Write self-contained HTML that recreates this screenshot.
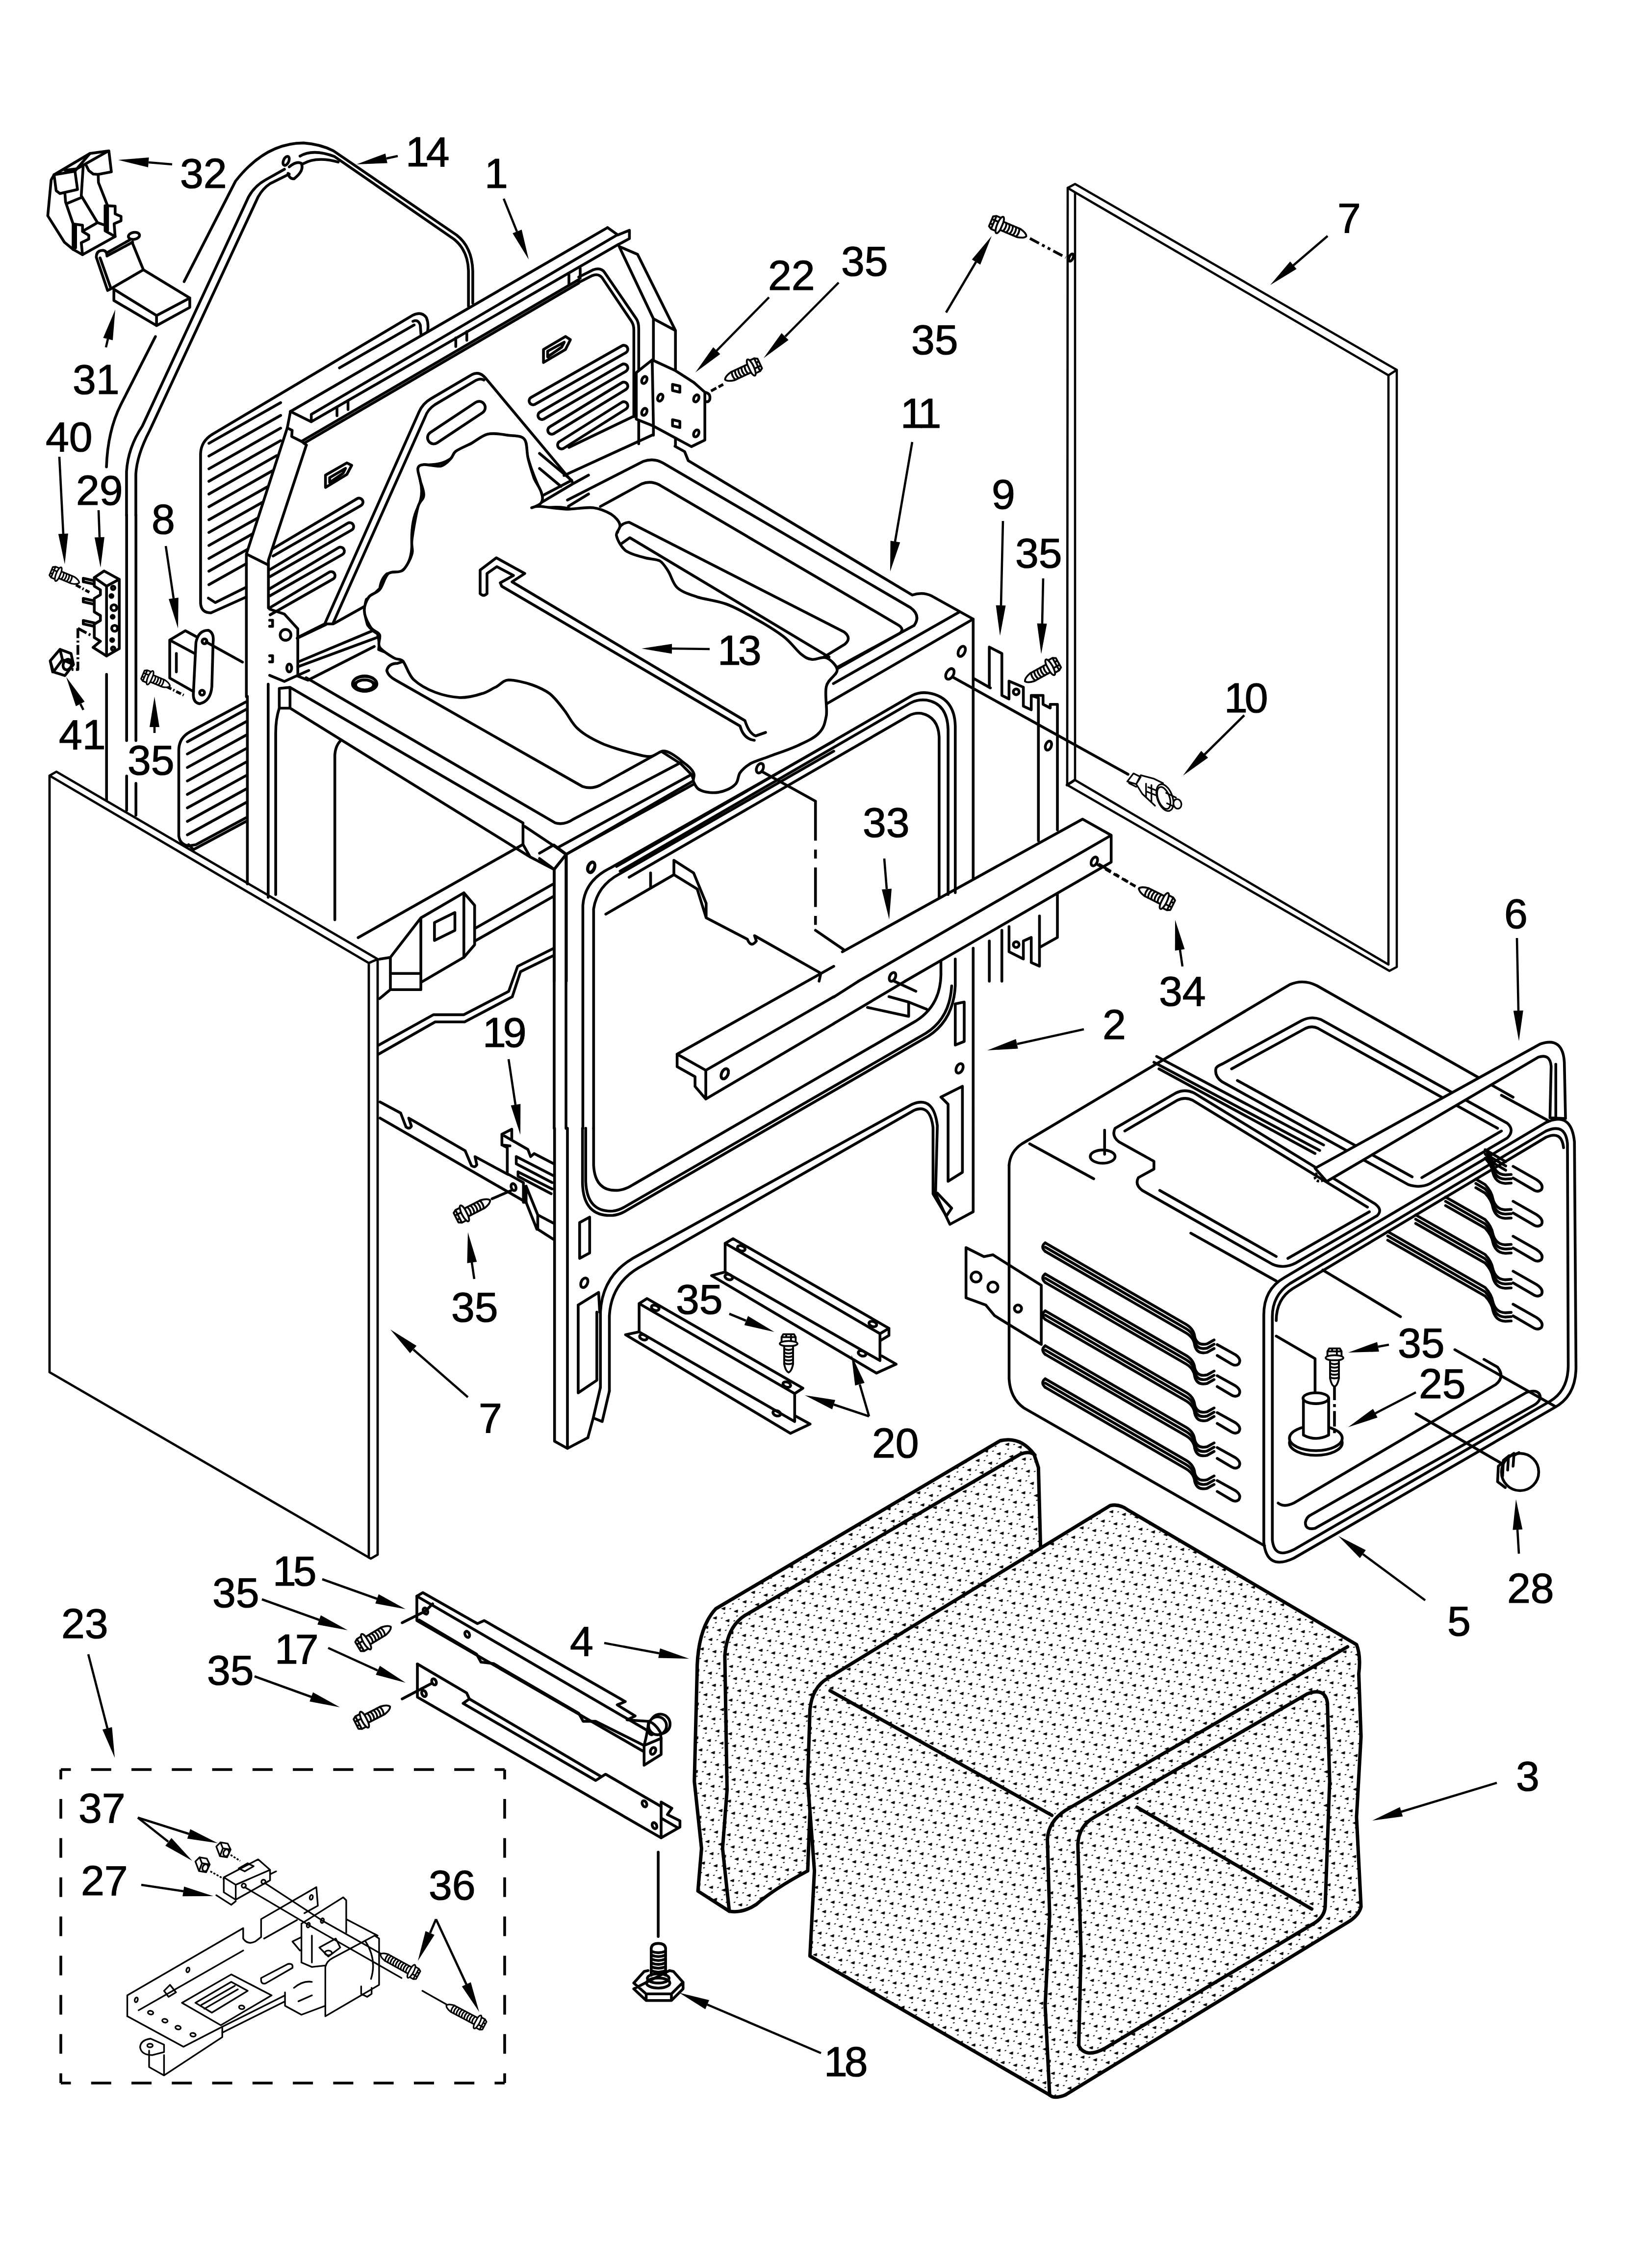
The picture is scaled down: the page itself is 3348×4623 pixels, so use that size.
<!DOCTYPE html><html><head><meta charset="utf-8"><title>Chassis Parts Diagram</title><style>html,body{margin:0;padding:0;background:#fff}svg{display:block}text{font-family:"Liberation Sans",sans-serif;fill:#000;stroke:#000;stroke-width:1.2px}</style></head><body>
<svg width="3348" height="4623" viewBox="0 0 3348 4623">
<defs><pattern id="stip" width="26" height="23" patternUnits="userSpaceOnUse" patternTransform="matrix(1.0786,0.2316,-0.8284,0.9143,0,0)">
<rect width="26" height="23" fill="#fff" stroke="none"/>
<path d="M8.5,4.5 L12,9.5 L5,8.5 Z" fill="#000" stroke="#000" stroke-width="1.6" stroke-linejoin="round"/>
<circle cx="20" cy="5" r="1.45" fill="#000" stroke="none"/><circle cx="17" cy="17" r="1.45" fill="#000" stroke="none"/>
</pattern>
</defs>
<rect width="3348" height="4623" fill="#fff"/>
<g transform="translate(200.0 250.0) scale(0.48721)" fill="none" stroke="#000" stroke-width="11.494" stroke-linejoin="round" stroke-linecap="round">
<path d="M360,665 L575,245 Q700,85 860,85 Q930,90 985,118 L1500,470 Q1565,520 1568,620 L1568,755"/>
<path d="M845,140 Q900,108 990,142 L1490,488 Q1548,535 1550,620 L1550,768"/>
<path d="M858,172 Q915,140 1005,165"/>
<path d="M240,895 L95,1180 Q40,1290 35,1440"/>
<path d="M780,195 L700,240 Q655,265 630,310 L185,1270 Q125,1360 119,1460 L119,1642"/>
<path d="M800,215 L720,255 Q690,275 670,310 L215,1290 Q163,1390 158,1470 L158,1642"/>
<ellipse cx="787" cy="160" rx="11" ry="20" transform="rotate(25 787 160)"/>
<path d="M800,185 Q830,160 850,170 Q865,200 820,235 Q800,235 795,212"/>
</g>
<g transform="translate(80.0 280.0) scale(0.25579)" fill="none" stroke="#000" stroke-width="21.893" stroke-linejoin="round" stroke-linecap="round">
<path d="M118,298 L405,128 L555,108 L575,275 L470,295 L472,360 L545,545 L605,548 L605,610 L652,630 L652,665 L597,688 L605,790 L345,935 L270,893 L200,835 L68,625 L95,340 Z"/>
<path d="M118,298 L285,270 L305,415 L165,448 L135,425 Z M205,262 L300,250 L405,128 M300,250 L540,115 M375,225 L395,265 L430,292 L470,295 M350,235 L335,465 L465,680 L525,700 M285,270 L300,250"/>
<path d="M205,450 L210,515 L270,690 L270,893 M225,525 L335,480 M270,690 L345,700 L345,750 L395,780 L395,810 L335,840 L345,935 M290,700 L290,880 M350,745 L455,685 M525,545 L525,745 L605,790 M545,560 L545,740"/>
<path d="M540,945 L745,835 M548,915 L720,818 M455,955 Q455,900 510,900 Q540,905 540,945 M455,955 L545,1220 L585,1200 M485,960 L570,1200"/>
<ellipse cx="755" cy="785" rx="45" ry="28" transform="rotate(-10 755 785)"/>
<path d="M740,835 L830,1055 L590,1195 M830,1055 L1200,1280 L935,1420 L595,1210 L595,1300 L935,1500 L935,1420 M935,1500 L1200,1355 L1200,1280"/>
</g>
<g transform="translate(380.0 600.0) scale(0.49939)" fill="none" stroke="#000" stroke-width="11.214" stroke-linejoin="round" stroke-linecap="round">
<path d="M105,572 L925,85 Q960,68 980,95 Q990,120 985,150"/>
<path d="M925,110 Q945,100 955,125 L958,165"/>
<path d="M625,300 L930,125"/>
<path d="M105,572 Q60,600 58,650 L58,1260 Q60,1300 100,1300 L245,1235"/>
<path d="M90,1240 L118,1258 L245,1195"/>
<path d="M92,608 L385,442"/>
<path d="M92,660 L385,494"/>
<path d="M92,712 L385,546"/>
<path d="M92,763 L385,597"/>
<path d="M92,815 L369,658"/>
<path d="M92,867 L350,721"/>
<path d="M92,920 L330,786"/>
<path d="M92,972 L310,849"/>
<path d="M92,1025 L291,913"/>
<path d="M92,1078 L271,977"/>
<path d="M92,1130 L251,1040"/>
<path d="M92,1185 L245,1099"/>
<path d="M425,478 L1719,-272"/>
<path d="M425,478 L412,545 L432,555 L430,580 L470,600 L490,615"/>
<path d="M425,478 L510,520 L510,490 L1758,-242 M510,520 L1764,-204"/>
<path d="M615,460 L615,495 M660,435 L660,470 M1100,178 L1100,213 M1145,152 L1145,187 M1562,-80 L1562,-42 M1608,-106 L1608,-66"/>
<path d="M470,600 L1602,-60 M480,608 L1602,-46"/>
<path d="M412,545 L245,1060 L245,1642 M490,615 L335,1085 L335,1280 M245,1060 L335,1105"/>
<path d="M568,738 L655,688 L675,698 L655,735 L568,788 Z M585,748 L650,710 L640,730 L585,768 Z"/>
<path d="M1458,225 L1548,172 L1568,185 L1548,225 L1458,278 Z M1475,232 L1543,195 L1533,215 L1475,255 Z"/>
<path d="M350,1040 L697,834 A16,16 0 0 1 713,862 L354,1068"/>
<path d="M338,1125 L659,934 A16,16 0 0 1 675,962 L342,1152"/>
<path d="M338,1203 L621,1034 A16,16 0 0 1 637,1062 L342,1230"/>
<path d="M338,1281 L583,1134 A16,16 0 0 1 599,1162 L342,1308"/>
<path d="M565,1345 L950,480 Q965,445 1000,425 L1165,328 Q1195,312 1220,340 L1575,765"/>
<path d="M600,1340 L975,500 Q985,470 1015,450 L1175,355 Q1200,340 1215,350"/>
<path d="M565,1345 L600,1345 L725,1275"/>
<path d="M996,564 L1181,441 A25,25 0 0 1 1209,483 L1024,606 A25,25 0 0 1 996,564"/>
<path d="M1410,872 Q1450,850 1450,810 Q1420,750 1395,670 Q1380,590 1310,575 Q1230,570 1160,610 Q1100,640 1080,670 Q1040,700 970,695 Q945,710 955,760 Q970,820 945,870 Q920,920 920,1000 Q925,1080 890,1120 Q860,1150 820,1140 Q795,1160 790,1200 Q760,1230 735,1245 Q720,1290 740,1350 Q760,1375 780,1385 Q790,1420 785,1450 Q820,1465 850,1470"/>
<path d="M1410,872 L1480,870 Q1540,865 1580,880 Q1620,885 1642,875"/>
<path d="M1415,870 L1575,775 L1642,738 M1560,865 L1642,815"/>
<path d="M1190,1110 L1265,1068 L1385,1135 L1340,1165 L1642,1345 M1225,1125 L1265,1100 L1335,1138 L1280,1172 L1285,1185 L1642,1400 M1190,1110 L1190,1215 Q1205,1235 1222,1215 L1225,1125"/>
<path d="M340,1285 L400,1305 L455,1365 L455,1555 L400,1580 L340,1555 M340,1330 L352,1330 L352,1355 L340,1355 M340,1475 L352,1475 L352,1500 L340,1500"/>
<circle cx="405" cy="1390" r="22"/><ellipse cx="420" cy="1525" rx="10" ry="16"/>
<path d="M455,1400 L565,1345 M455,1520 L780,1400 M455,1555 L500,1535"/>
<ellipse cx="728" cy="1590" rx="50" ry="30"/><ellipse cx="728" cy="1597" rx="42" ry="23"/></g>
<g transform="translate(1180.0 400.0) scale(0.49939)" fill="none" stroke="#000" stroke-width="11.214" stroke-linejoin="round" stroke-linecap="round">
<path d="M118,128 L160,158 L207,139 L207,173 L162,197" />
<path d="M165,205 L305,500 L305,975 M240,237 L395,548 L395,1020 M165,205 L240,237 M305,500 L395,548" />
<path d="M0,330 L60,300 Q90,290 105,310 L235,500 Q245,515 245,540 L245,1010 M0,352 L55,324 Q80,314 95,332 L215,510 Q225,525 225,545 L225,900" />
<path d="M235,720 L300,668 L395,712 L470,760 L515,800 L515,995 L460,1022 L305,938 L235,910 Z M300,668 L305,938" fill="#fff"/>
<ellipse cx="268" cy="750" rx="10" ry="15" transform="rotate(25 268 750)" />
<ellipse cx="268" cy="880" rx="10" ry="15" transform="rotate(25 268 880)" />
<ellipse cx="333" cy="822" rx="10" ry="15" transform="rotate(25 333 822)" />
<ellipse cx="480" cy="825" rx="10" ry="15" transform="rotate(25 480 825)" />
<ellipse cx="480" cy="968" rx="10" ry="15" transform="rotate(25 480 968)" />
<path d="M383,768 L413,775 L413,800 L383,793 Z M383,912 L413,919 L413,944 L383,937 Z M515,800 Q540,805 535,830 Q530,842 518,838" />
<path d="M540,795 L590,768" stroke-dasharray="25 10" stroke-linecap="butt"/>
<path d="M-60,1140 L300,975 M-40,1025 L235,893" /></g>
<g transform="translate(1100.0 800.0) scale(0.73082)" fill="none" stroke="#000" stroke-width="7.663" stroke-linejoin="round" stroke-linecap="round">
<path d="M378,150 L405,165 L415,190 L440,205 L1040,565 Q1070,555 1095,568 L1210,632 L1210,1355"/>
<path d="M78,300 L290,192 Q320,182 345,197 L1035,600 Q1065,622 1045,650 L815,775"/>
<path d="M170,318 L285,255 Q310,245 335,258 L1000,648 Q1020,660 1005,672 L800,788"/>
<path d="M218,390 Q222,365 250,362 L850,668 Q872,685 852,702 L790,740"/>
<path d="M228,422 L252,405 L808,738"/>
<path d="M1210,632 L75,1288 M1172,612 L820,812 M75,1288 L75,1642 M41,1330 L41,1642 M0,1300 L41,1330 L75,1288 L40,1262 L0,1285"/>
<path d="M1160,1395 L1160,930 Q1158,850 1085,838 Q1060,835 1040,845 L215,1322"/>
<path d="M1140,1400 L1140,940 Q1138,868 1080,858 Q1055,855 1035,866 L225,1335"/>
<path d="M1115,1410 L1115,960 Q1112,905 1065,895 Q1045,893 1030,902 L250,1352"/>
<path d="M185,1455 L375,1345"/>
<ellipse cx="145" cy="1325" rx="9" ry="15" transform="rotate(20 145 1325)"/>
<ellipse cx="1178" cy="722" rx="9" ry="15" transform="rotate(25 1178 722)"/>
<ellipse cx="1145" cy="785" rx="10" ry="16" transform="rotate(30 1145 785)"/>
<ellipse cx="615" cy="1048" rx="9" ry="14" transform="rotate(25 615 1048)"/>
<path d="M622,1058 L770,1140 M1155,795 L1642,1065"/>
<path d="M770,1140 L770,1500" stroke-dasharray="110 25 25 25" stroke-linecap="butt"/>
<path d="M770,1500 L850,1555"/>
<path d="M1255,820 L1255,710 L1290,728 L1290,845 L1310,855 L1310,805 L1350,822 L1350,875 L1372,885 L1372,845 L1392,852 L1392,1250 M1405,845 L1405,870 L1425,880 L1425,870 L1445,870 L1445,1220 M1372,845 L1405,845 M1212,798 L1258,824"/>
<circle cx="1330" cy="835" r="8"/>
<ellipse cx="1420" cy="985" rx="8" ry="13" transform="rotate(20 1420 985)"/>
<path d="M1255,1530 L1255,1642 M1290,1500 L1290,1642 M1310,1490 L1310,1560 L1350,1580 L1350,1530 L1372,1520 L1372,1590 L1395,1600 L1395,1460 M1445,1400 L1445,1520 L1395,1548"/>
<circle cx="1330" cy="1540" r="8"/>
<path d="M845,1560 L1515,1190 L1595,1235 L1595,1310 L1020,1642 M1595,1235 L890,1642"/>
<ellipse cx="1548" cy="1308" rx="8" ry="13" transform="rotate(25 1548 1308)"/>
<ellipse cx="985" cy="1630" rx="8" ry="13" transform="rotate(25 985 1630)"/>
<path d="M1560,1315 L1642,1365" stroke-dasharray="40 15 12 15" stroke-linecap="butt"/>
<path d="M375,1305 L375,1345 M375,1305 L430,1340 L465,1425 L465,1465 L580,1525 Q590,1550 605,1530 L600,1515 L785,1620 L780,1642 M375,1345 L440,1385 L465,1465 M310,1340 L310,1380"/>
<path d="M0,170 L90,245 L0,292 M0,212 L60,262"/></g>
<g transform="translate(500.0 1100.0) scale(0.73082)" fill="none" stroke="#000" stroke-width="7.663" stroke-linejoin="round" stroke-linecap="round">
<path d="M145,275 L225,237 M150,340 L365,250 M145,380 L175,392 L360,298"/>
<path d="M95,415 L125,412 L125,470 L95,470 Z M125,412 L775,790 L775,850 L795,885 L862,920 L895,878 L870,860 L780,800 M125,470 L795,885 M95,470 Q85,500 85,540 L85,990"/>
<path d="M170,385 L865,790 Q890,797 915,780 L1215,622"/>
<ellipse cx="333" cy="400" rx="32" ry="20" transform="rotate(0 333 400)"/>
<ellipse cx="333" cy="405" rx="25" ry="14" transform="rotate(0 333 405)"/>
<path d="M395,365 Q400,345 425,345 L445,338 M395,365 Q398,380 420,392 L940,688 Q965,697 990,685 L1135,605 L1160,590 L1215,625 L1245,655 L1255,680 L895,878"/>
<path d="M870,860 L1245,655"/>
<path d="M862,920 L862,1642 M895,878 L895,1642"/>
<ellipse cx="965" cy="913" rx="9" ry="15" transform="rotate(25 965 913)"/>
<path d="M942,1642 L942,1020 Q947,950 1020,915 L1642,562"/>
<path d="M972,1642 L972,1030 Q982,965 1045,932 L1642,590"/>
<path d="M250,1060 L250,600 Q252,575 265,562"/>
<path d="M315,1110 L775,850 M640,1085 L860,960 M640,1120 L860,995"/>
<path d="M490,1055 L610,985 L640,1020 L640,1130 L610,1165 L490,1235 Z M610,985 L610,1165 M528,1068 L585,1040 L585,1090 L528,1118 Z M490,1055 L405,1165 L405,1255 L490,1255 L490,1235 M405,1210 L490,1210 M375,1170 L405,1165 M375,1280 L405,1255"/>
<path d="M372,1410 L525,1325 L610,1325 L735,1260 L760,1190 L860,1140 M372,1435 L530,1345 L612,1345 L745,1275 L768,1205 L860,1160"/>
<path d="M1205,1435 L1642,1190 M1205,1435 L1205,1470 L1255,1498 L1255,1525 L1285,1560 L1285,1480 L1205,1435 M1285,1480 L1642,1275 M1285,1560 L1642,1350"/>
<ellipse cx="1338" cy="1490" rx="9" ry="15" transform="rotate(25 1338 1490)"/></g>
<g transform="translate(0.0 1050.0) scale(0.49939)" fill="none" stroke="#000" stroke-width="11.214" stroke-linejoin="round" stroke-linecap="round">
<path d="M517,0 L517,920 M555,0 L555,920 M517,1065 L517,1205 M555,1095 L555,1225 M435,650 L435,1165"/>
<path d="M1005,762 L775,885 Q730,910 730,960 L730,1310 Q735,1345 770,1350 L800,1345 L1005,1235 M770,1345 L790,1365 L1005,1250"/>
<path d="M765,925 L1005,793"/>
<path d="M765,975 L1005,843"/>
<path d="M765,1030 L1005,898"/>
<path d="M765,1085 L1005,953"/>
<path d="M765,1140 L1005,1008"/>
<path d="M765,1195 L1005,1063"/>
<path d="M765,1250 L1005,1118"/>
<path d="M765,1305 L1005,1173"/>
<path d="M1010,740 L1010,1505 M1095,690 L1095,1560"/>
<path d="M693,510 L757,472 L805,498 M693,510 L693,665 L790,720 M693,510 L795,565 M720,565 L720,640"/>
<path d="M800,520 Q810,470 850,470 Q875,480 870,520 L865,700 Q860,760 815,770 Q785,765 790,720 Z"/>
<circle cx="835" cy="515" r="10"/><circle cx="825" cy="725" r="10"/>
<path d="M842,518 L990,600"/>
<path d="M385,255 L425,228 L487,262 L487,545 L435,575 L435,290 L385,255 M435,290 L487,262 M380,540 L435,575 M385,255 L385,290 L410,305 L410,325 L385,340 L385,395 L410,410 L410,430 L385,445 L385,500 L410,515 L380,540"/>
<path d="M385,268 L340,258 M385,282 L340,272 M340,258 L340,272 M385,350 L340,340 M385,364 L340,354 M340,340 L340,354 M385,440 L340,430 M385,454 L340,444 M340,430 L340,444"/>
<circle cx="462" cy="297" r="7"/>
<circle cx="455" cy="330" r="6"/>
<circle cx="465" cy="378" r="12"/>
<circle cx="460" cy="415" r="6"/>
<circle cx="468" cy="462" r="12"/>
<circle cx="458" cy="510" r="6"/>
<circle cx="462" cy="545" r="7"/>
<path d="M205,595 L245,548 L290,565 L300,610 L265,655 L218,640 Z M205,595 L215,640 M245,548 L255,590 L300,610 M255,590 L218,640"/>
<ellipse cx="275" cy="610" rx="17" ry="22" transform="rotate(20 275 610)"/>
<path d="M310,285 L365,315 M680,700 L750,735" stroke-dasharray="22 8 6 8" stroke-linecap="butt"/>
<path d="M318,462 L318,630 L292,630 M318,462 L370,490" stroke-dasharray="40 10 8 10" stroke-linecap="butt"/></g>
<g transform="translate(1100.0 1900.0) scale(0.73082)" fill="none" stroke="#000" stroke-width="7.663" stroke-linejoin="round" stroke-linecap="round">
<path d="M42,547 L42,1420 L78,1440 L78,547 M78,1440 L135,1410"/>
<path d="M120,547 L120,700 Q122,795 205,790 Q225,788 245,775 L1085,290 Q1155,245 1160,150 L1160,75"/>
<path d="M129,547 L129,695 Q132,782 205,778 Q222,776 240,765 L1078,282 Q1145,240 1150,150"/>
<path d="M151,547 L151,650 Q155,725 220,720 Q240,718 260,705 L1050,248 Q1118,205 1120,120 L1120,80"/>
<path d="M170,1270 L170,1060 Q175,960 260,910 L1040,480 Q1100,455 1110,540 L1105,730 L1145,815 L1210,780 L1210,45"/>
<path d="M195,1280 L195,1070 Q200,982 275,937 L1045,497 Q1090,478 1098,545 L1098,730 L1135,792 L1150,770 L1110,728"/>
<path d="M1160,200 L1185,195 L1185,305 L1160,315 Z M1120,460 L1180,430 L1180,670 L1140,695 L1140,480 Z"/>
<ellipse cx="1172" cy="380" rx="9" ry="14" transform="rotate(25 1172 380)"/>
<path d="M112,810 L140,795 L140,895 L112,910 Z M108,1040 L165,1005 L168,1060 M108,1040 L108,1285 L160,1250 L160,1060 M170,1270 L150,1355 L135,1410 M195,1280 L175,1365 L150,1355"/>
<ellipse cx="125" cy="978" rx="9" ry="14" transform="rotate(25 125 978)"/>
<path d="M821,255 L1020,137 M821,181 L890,137"/>
<ellipse cx="517" cy="395" rx="9" ry="15" transform="rotate(25 517 395)"/>
<path d="M915,210 L1030,235 L1030,195 L975,180 M1030,195 L1080,215 M990,137 L1050,165"/>
<path d="M518,868 L540,855 L975,1105 L950,1120 Z M518,868 L518,948 L950,1195 L950,1120 M975,1105 L975,1125 L950,1140 M518,948 L480,958 L940,1230 L995,1205 L955,1182"/>
<ellipse cx="563" cy="882" rx="11" ry="7" transform="rotate(20 563 882)"/>
<ellipse cx="930" cy="1093" rx="11" ry="7" transform="rotate(20 930 1093)"/>
<ellipse cx="528" cy="962" rx="11" ry="7" transform="rotate(20 528 962)"/>
<ellipse cx="900" cy="1175" rx="11" ry="7" transform="rotate(20 900 1175)"/>
<path d="M278,1036 L300,1022 L735,1272 L712,1287 Z M278,1036 L278,1115 L712,1365 L712,1287 M278,1115 L240,1123 L700,1398 L755,1372 L715,1350"/>
<ellipse cx="323" cy="1048" rx="11" ry="7" transform="rotate(20 323 1048)"/>
<ellipse cx="690" cy="1262" rx="11" ry="7" transform="rotate(20 690 1262)"/>
<ellipse cx="290" cy="1130" rx="11" ry="7" transform="rotate(20 290 1130)"/>
<ellipse cx="662" cy="1342" rx="11" ry="7" transform="rotate(20 662 1342)"/>
<path d="M1190,880 L1240,905 L1265,900 L1400,985 L1400,1150 L1270,1070 L1245,1040 L1190,1020 Z"/>
<circle cx="1218" cy="962" r="14"/><circle cx="1265" cy="990" r="14"/><circle cx="1335" cy="1050" r="10"/></g>
<g transform="translate(2048.0 1900.0) scale(0.79172)" fill="none" stroke="#000" stroke-width="7.073" stroke-linejoin="round" stroke-linecap="round">
<path d="M12,600 Q15,565 45,545 L735,135 Q770,120 805,138 L1310,425"/>
<path d="M12,600 L12,1150 Q15,1200 50,1225 L670,1580"/>
<path d="M668,985 Q668,920 720,890 L1395,490 Q1460,460 1468,540 L1472,1120 Q1472,1195 1415,1225 L745,1612 Q675,1645 668,1570 Z"/>
<path d="M690,990 Q690,935 735,905 L1395,512 Q1445,490 1450,545 L1452,1115 Q1452,1180 1405,1208 L745,1590 Q695,1615 690,1565 Z"/>
<path d="M700,1000 Q700,945 742,918 L1395,528 Q1435,510 1440,555"/>
<ellipse cx="815" cy="628" rx="16" ry="12" transform="rotate(-30 815 628)" stroke-dasharray="6 5" stroke-linecap="butt"/>
<path d="M65,545 L230,635 M480,775 L700,898 M1280,420 L1400,485 M820,870 L1020,990"/>
<path d="M392,320 L822,548 M385,335 L812,562 M398,352 L800,570"/>
<path d="M545,350 Q540,370 560,385 L1040,650 Q1070,660 1095,648 L1295,530 Q1315,510 1295,492 L815,225 Q790,215 765,228 L560,340 Q548,345 545,350"/>
<path d="M1050,630 L600,382 M1075,632 L1280,512 M585,352 L775,248 Q792,240 808,248 L1270,505"/>
<path d="M285,505 Q275,525 295,540 L385,590 L385,610 L345,632 Q335,650 355,665 L690,855 Q720,868 750,852 L960,730 Q975,715 955,700 L490,415 Q465,402 440,415 Z"/>
<path d="M700,835 L400,665 M730,840 L940,720 M310,512 L445,433 Q465,423 485,433 L935,708"/>
<ellipse cx="253" cy="578" rx="32" ry="17" transform="rotate(0 253 578)" />
<path d="M258,510 L258,572"/>
<path d="M800,608 L1380,288 Q1438,268 1442,335 L1445,480 L1405,478 L1408,345 Q1405,312 1375,322 L830,642 Z" fill="#fff"/>
<path d="M1420,340 L1420,478"/>
<path d="M105,800 L468,1010 Q488,1022 490,1042 Q496,1066 522,1060 L540,1050"/>
<path d="M105,811 L468,1021 Q488,1033 490,1053 Q496,1077 522,1071 L540,1061"/>
<path d="M105,822 L468,1032 Q488,1044 490,1064 Q496,1088 522,1082 L540,1072"/>
<path d="M105,800 Q92,810 105,822"/>
<path d="M548,1062 L595,1088 Q612,1100 603,1112 Q595,1118 585,1112 L548,1090"/>
<path d="M105,880 L468,1090 Q488,1102 490,1122 Q496,1146 522,1140 L540,1130"/>
<path d="M105,891 L468,1101 Q488,1113 490,1133 Q496,1157 522,1151 L540,1141"/>
<path d="M105,902 L468,1112 Q488,1124 490,1144 Q496,1168 522,1162 L540,1152"/>
<path d="M105,880 Q92,890 105,902"/>
<path d="M548,1142 L595,1168 Q612,1180 603,1192 Q595,1198 585,1192 L548,1170"/>
<path d="M105,975 L468,1185 Q488,1197 490,1217 Q496,1241 522,1235 L540,1225"/>
<path d="M105,986 L468,1196 Q488,1208 490,1228 Q496,1252 522,1246 L540,1236"/>
<path d="M105,997 L468,1207 Q488,1219 490,1239 Q496,1263 522,1257 L540,1247"/>
<path d="M105,975 Q92,985 105,997"/>
<path d="M548,1237 L595,1263 Q612,1275 603,1287 Q595,1293 585,1287 L548,1265"/>
<path d="M105,1065 L468,1275 Q488,1287 490,1307 Q496,1331 522,1325 L540,1315"/>
<path d="M105,1076 L468,1286 Q488,1298 490,1318 Q496,1342 522,1336 L540,1326"/>
<path d="M105,1087 L468,1297 Q488,1309 490,1329 Q496,1353 522,1347 L540,1337"/>
<path d="M105,1065 Q92,1075 105,1087"/>
<path d="M548,1327 L595,1353 Q612,1365 603,1377 Q595,1383 585,1377 L548,1355"/>
<path d="M105,1150 L468,1360 Q488,1372 490,1392 Q496,1416 522,1410 L540,1400"/>
<path d="M105,1161 L468,1371 Q488,1383 490,1403 Q496,1427 522,1421 L540,1411"/>
<path d="M105,1172 L468,1382 Q488,1394 490,1414 Q496,1438 522,1432 L540,1422"/>
<path d="M105,1150 Q92,1160 105,1172"/>
<path d="M548,1412 L595,1438 Q612,1450 603,1462 Q595,1468 585,1462 L548,1440"/>
<path d="M1291,591 L1238,560 Q1255,578 1258,597 Q1265,624 1290,625 L1305,624"/>
<path d="M1291,602 L1238,571 Q1255,589 1258,608 Q1265,635 1290,636 L1305,635"/>
<path d="M1291,613 L1238,582 Q1255,600 1258,619 Q1265,646 1290,647 L1305,646"/>
<path d="M1310,603 L1370,637 Q1390,650 1383,663 Q1375,670 1365,665 L1310,633"/>
<path d="M1214,636 L1238,650 Q1255,668 1258,687 Q1265,714 1290,715 L1305,714"/>
<path d="M1214,647 L1238,661 Q1255,679 1258,698 Q1265,725 1290,726 L1305,725"/>
<path d="M1214,658 L1238,672 Q1255,690 1258,709 Q1265,736 1290,737 L1305,736"/>
<path d="M1310,693 L1370,727 Q1390,740 1383,753 Q1375,760 1365,755 L1310,723"/>
<path d="M1136,682 L1238,740 Q1255,758 1258,777 Q1265,804 1290,805 L1305,804"/>
<path d="M1136,693 L1238,751 Q1255,769 1258,788 Q1265,815 1290,816 L1305,815"/>
<path d="M1136,704 L1238,762 Q1255,780 1258,799 Q1265,826 1290,827 L1305,826"/>
<path d="M1310,783 L1370,817 Q1390,830 1383,843 Q1375,850 1365,845 L1310,813"/>
<path d="M1059,728 L1238,830 Q1255,848 1258,867 Q1265,894 1290,895 L1305,894"/>
<path d="M1059,739 L1238,841 Q1255,859 1258,878 Q1265,905 1290,906 L1305,905"/>
<path d="M1059,750 L1238,852 Q1255,870 1258,889 Q1265,916 1290,917 L1305,916"/>
<path d="M1310,873 L1370,907 Q1390,920 1383,933 Q1375,940 1365,935 L1310,903"/>
<path d="M987,771 L1238,915 Q1255,933 1258,952 Q1265,979 1290,980 L1305,979"/>
<path d="M987,782 L1238,926 Q1255,944 1258,963 Q1265,990 1290,991 L1305,990"/>
<path d="M987,793 L1238,937 Q1255,955 1258,974 Q1265,1001 1290,1002 L1305,1001"/>
<path d="M1310,958 L1370,992 Q1390,1005 1383,1018 Q1375,1025 1365,1020 L1310,988"/>
<path d="M700,1040 L800,1098 L800,1185 M1160,1075 L1420,1222 M1060,1240 L1310,1385"/>
<path d="M790,1500 L1345,1185 Q1375,1175 1380,1195 Q1380,1210 1360,1220 L800,1535 Q775,1540 775,1520 Q778,1505 790,1500 M705,1470 Q720,1482 745,1470 L1265,1165 Q1290,1145 1270,1120 L1235,1100"/>
<ellipse cx="802" cy="1315" rx="68" ry="32" fill="#fff"/><ellipse cx="802" cy="1303" rx="68" ry="32" fill="#fff"/>
<path d="M770,1200 L770,1295 Q802,1312 835,1295 L835,1200" fill="#fff"/><ellipse cx="802" cy="1200" rx="33" ry="14" fill="#fff"/>
<path d="M850,1165 L850,1290" stroke-dasharray="40 10 8 10" stroke-linecap="butt"/>
<circle cx="1328" cy="1390" r="48" fill="#fff"/>
<path d="M1290,1360 L1272,1375 L1270,1415 L1290,1430 M1300,1348 L1285,1360 L1283,1400 M1312,1342 L1298,1352 L1296,1385 M1325,1340 L1312,1348 L1310,1375"/></g>
<g transform="translate(820.0 3220.0) scale(0.36541)" fill="none" stroke="#000" stroke-width="15.325" stroke-linejoin="round" stroke-linecap="round">
<path d="M82,92 L115,72 L420,245 L458,228 L1245,680 L1200,698 L1300,760 L1255,782 L1375,790"/>
<path d="M82,92 L82,228 L1350,960 L1350,1035 L1445,975 L1445,885 L1350,925 L1350,960"/>
<path d="M82,92 L1375,845"/>
<path d="M95,225 L415,415 L440,460 L510,468 L985,745 L1010,790 L1080,790 L1350,925"/>
<ellipse cx="130" cy="175" rx="12" ry="18" transform="rotate(-25 130 175)" />
<ellipse cx="363" cy="305" rx="12" ry="18" transform="rotate(-25 363 305)" />
<ellipse cx="1388" cy="848" rx="12" ry="18" transform="rotate(-25 1388 848)" />
<ellipse cx="1400" cy="955" rx="14" ry="20" transform="rotate(25 1400 955)" />
<circle cx="1440" cy="805" r="55" fill="#fff"/><circle cx="1425" cy="815" r="50" fill="#fff"/>
<path d="M1375,790 Q1370,850 1350,925 M1375,790 Q1410,800 1440,850 L1445,885"/>
<path d="M130,175 L0,240 M170,135 L130,175"/>
<path d="M85,470 L85,655 L1445,1440 L1550,1380 L1550,1345 L1480,1310 L1505,1275 L1445,1240 L1445,1440 M1445,1330 L1540,1385"/>
<path d="M85,470 L360,632 L375,665 L340,690 L1080,1120 L1135,1085 L1445,1265 M375,665 L1110,1098"/>
<ellipse cx="178" cy="570" rx="12" ry="18" transform="rotate(-25 178 570)" />
<ellipse cx="122" cy="635" rx="12" ry="18" transform="rotate(-25 122 635)" />
<ellipse cx="1352" cy="1250" rx="12" ry="18" transform="rotate(-25 1352 1250)" />
<ellipse cx="1408" cy="1372" rx="12" ry="18" transform="rotate(-25 1408 1372)" />
<path d="M165,578 L0,665"/></g>
<g transform="translate(700.0 3100.0) scale(0.79172)" fill="none" stroke="#000" stroke-width="7.073" stroke-linejoin="round" stroke-linecap="round">
<path d="M811,853 L811,1070"/>
<path d="M793,1100 Q795,1088 811,1088 Q828,1088 830,1100 L830,1170 M793,1100 L793,1170"/>
<path d="M793,1108 Q811,1116 830,1108"/>
<path d="M793,1118 Q811,1126 830,1118"/>
<path d="M793,1128 Q811,1136 830,1128"/>
<path d="M793,1138 Q811,1146 830,1138"/>
<path d="M793,1148 Q811,1156 830,1148"/>
<path d="M793,1158 Q811,1166 830,1158"/>
<ellipse cx="811" cy="1178" rx="28" ry="12" transform="rotate(0 811 1178)" />
<ellipse cx="811" cy="1190" rx="30" ry="13" transform="rotate(0 811 1190)" />
<path d="M748,1190 L775,1160 L785,1158 M840,1158 L850,1160 L875,1188 L875,1205 L845,1235 L780,1235 L748,1205 Z M748,1190 L780,1218 L845,1218 L875,1188 M780,1218 L780,1235 M845,1218 L845,1235"/></g>
<g transform="translate(1350.0 2900.0) scale(0.91352)" fill="none" stroke="#000" stroke-width="6.130" stroke-linejoin="round" stroke-linecap="round">
<path d="M78,560 Q78,460 120,415 L755,40 Q800,30 830,70 L840,100 L845,290 L340,600 L325,1000 Q250,1040 210,1075 Q180,1095 150,1090 L80,1045 L88,950 L72,800 Z" fill="url(#stip)" stroke-width="7.7"/>
<path d="M150,1090 L135,950 L145,820 L140,520 Q145,455 185,430 L800,70 Q820,62 832,72" stroke-width="7.7"/>
<path d="M330,640 Q335,590 370,570 L1000,185 Q1020,180 1040,195 L1550,495 Q1560,520 1555,560 L1560,700 L1550,880 L1560,1080 Q1555,1100 1530,1115 L900,1500 Q875,1510 865,1500 L330,1190 L340,1000 L325,800 Z" fill="url(#stip)" stroke-width="7.7"/>
<path d="M865,1500 L855,1300 L865,1100 L860,930 Q862,890 900,865 L1530,500 M375,598 L870,876" stroke-width="7.7"/>
<path d="M930,1390 L935,1180 L928,940 Q930,900 965,880 L1440,605 Q1480,590 1485,625 L1490,800 L1480,1080 Q1478,1105 1450,1120 L990,1395 Q945,1420 930,1390 Z" fill="url(#stip)" stroke-width="7.7"/>
<path d="M1060,858 L1450,1085" stroke-width="7.7"/></g>
<g transform="translate(100.0 3580.0) scale(0.60901)" fill="none" stroke="#000" stroke-width="9.195" stroke-linejoin="round" stroke-linecap="round">
<path d="M262,870 L262,800 L650,575 L650,610 Q665,632 690,620 L710,605 L710,545 L895,438 L900,500 L855,525" stroke-width="5.5"/>
<path d="M262,870 L450,972 L580,905 L580,940 L385,1068 L335,1040 L335,985 M385,1068 L385,1000 M300,850 L650,650 M720,610 L830,548" stroke-width="5.5"/>
<path d="M445,825 L610,730 L745,800 L575,900 Z M490,825 L610,755 L665,785 L545,858 Z M510,832 L622,768 M520,845 L632,780" stroke-width="5.5"/>
<path d="M710,742 L800,695 Q818,692 815,708 L725,760 Q708,765 710,742" stroke-width="5.5"/>
<ellipse cx="292" cy="815" rx="5" ry="8" transform="rotate(15 292 815)" stroke-width="5.5"/>
<ellipse cx="465" cy="715" rx="5" ry="8" transform="rotate(15 465 715)" stroke-width="5.5"/>
<ellipse cx="878" cy="472" rx="5" ry="8" transform="rotate(15 878 472)" stroke-width="5.5"/>
<ellipse cx="340" cy="858" rx="9" ry="6" transform="rotate(10 340 858)" stroke-width="5.5"/>
<ellipse cx="388" cy="885" rx="9" ry="6" transform="rotate(10 388 885)" stroke-width="5.5"/>
<ellipse cx="432" cy="908" rx="9" ry="6" transform="rotate(10 432 908)" stroke-width="5.5"/>
<ellipse cx="482" cy="932" rx="9" ry="6" transform="rotate(10 482 932)" stroke-width="5.5"/>
<ellipse cx="645" cy="840" rx="9" ry="6" transform="rotate(10 645 840)" stroke-width="5.5"/>
<path d="M385,785 L405,765 L425,790 L400,805 Z" stroke-width="5.5"/>
<path d="M305,975 Q305,950 340,945 L385,965 L385,990 L345,1000 Q310,1000 305,975" stroke-width="5.5"/>
<ellipse cx="338" cy="968" rx="9" ry="6" transform="rotate(0 338 968)" stroke-width="5.5"/>
<path d="M845,690 L845,560 L985,472 L995,482 L995,590 M880,600 L880,690 M845,690 L880,705 L925,700 M925,870 L925,705 Q930,685 950,675 L1090,600 L1105,610 L1105,765 L925,870 M995,545 L1100,600 M1060,620 Q1098,680 1078,745 M1045,770 L1045,795 L1065,805 L1080,795 L1080,775" stroke-width="5.5"/>
<path d="M815,620 L845,605 M815,620 L840,650 L845,648 M905,640 L960,610 L975,640 L935,670 Z" stroke-width="5.5"/>
<ellipse cx="935" cy="658" rx="12" ry="8" transform="rotate(0 935 658)" stroke-width="5.5"/>
<path d="M580,905 L790,800 M580,925 L790,820 M790,790 L790,835 L845,865 L925,835 M820,775 Q850,750 880,755 M835,820 L880,800" stroke-width="5.5"/>
<path d="M585,405 L700,345 L740,380 L740,415 L625,480 L585,455 Z M585,405 L625,430 L740,380 M625,430 L625,480 M635,375 L665,358 L685,368 L655,385 Z M560,465 L610,497 L625,485 M740,395 L760,385" stroke-width="5.5"/>
<circle cx="652" cy="433" r="7" stroke-width="5.5"/><circle cx="718" cy="420" r="7" stroke-width="5.5"/>
<path d="M560,302 L574,288 L598,292 L608,312 L596,338 L572,334 Z M574,288 L582,308 L608,312 M582,308 L572,334" stroke-width="5.5"/>
<ellipse cx="593" cy="323" rx="9" ry="12" transform="rotate(20 593 323)" stroke-width="5.5"/>
<path d="M490,352 L504,338 L528,342 L538,362 L526,388 L502,384 Z M504,338 L512,358 L538,362 M512,358 L502,384" stroke-width="5.5"/>
<ellipse cx="523" cy="373" rx="9" ry="12" transform="rotate(20 523 373)" stroke-width="5.5"/>
<path d="M608,330 L640,350 M540,385 L585,410" stroke-dasharray="7 5" stroke-linecap="butt" stroke-width="5.5"/>
<path d="M655,438 L870,565 L1180,742 M722,424 L915,550 L1110,660" stroke-width="5.5"/>
<ellipse cx="868" cy="565" rx="5" ry="8" transform="rotate(15 868 565)" stroke-width="5.5"/>
<ellipse cx="915" cy="550" rx="5" ry="8" transform="rotate(15 915 550)" stroke-width="5.5"/>
<path d="M1250,785 L1330,830" stroke-width="5.5"/></g>
<g transform="translate(0.0 0.0) scale(1.00000)" fill="none" stroke="#000" stroke-width="5.600" stroke-linejoin="round" stroke-linecap="round">
<path d="M1084,1035 C1087,1035 1088,1032 1100,1032 C1112,1033 1137,1037 1155,1038 C1173,1038 1194,1033 1210,1035 C1225,1037 1237,1043 1246,1048 C1255,1054 1263,1063 1264,1070 C1266,1078 1255,1084 1257,1092 C1259,1101 1266,1114 1275,1122 C1285,1129 1300,1133 1312,1136 C1324,1140 1336,1139 1345,1143 C1353,1148 1357,1156 1363,1165 C1369,1175 1372,1190 1381,1198 C1391,1207 1405,1211 1422,1217 C1438,1222 1461,1224 1480,1231 C1500,1238 1519,1249 1538,1260 C1558,1271 1581,1285 1597,1297 C1613,1309 1624,1326 1633,1333 C1643,1341 1647,1343 1655,1344 C1664,1346 1676,1337 1685,1341 C1693,1344 1707,1357 1707,1366 C1707,1376 1688,1384 1685,1399 C1681,1414 1687,1442 1685,1458 C1682,1474 1680,1484 1670,1494 C1660,1505 1643,1512 1626,1520 C1609,1528 1584,1536 1568,1542 C1552,1548 1541,1551 1531,1556 C1521,1562 1515,1567 1509,1575 C1504,1582 1506,1594 1498,1600 C1491,1607 1477,1613 1465,1615 C1454,1617 1437,1615 1429,1611 C1420,1608 1417,1599 1414,1593 C1412,1587 1418,1581 1414,1575 C1411,1568 1402,1560 1392,1553 C1383,1545 1367,1533 1356,1531 C1345,1529 1337,1541 1326,1542 C1315,1543 1305,1539 1289,1535 C1273,1531 1249,1524 1231,1517 C1213,1509 1193,1499 1180,1487 C1166,1476 1160,1459 1150,1447 C1141,1435 1132,1423 1121,1414 C1110,1406 1099,1401 1085,1396 C1071,1391 1049,1386 1037,1386 C1025,1387 1021,1395 1012,1400 C1002,1404 995,1411 982,1414 C970,1418 954,1422 938,1422 C923,1421 903,1417 887,1411 C871,1405 854,1395 843,1385 C833,1375 828,1356 822,1348 C815,1341 811,1346 803,1341 C795,1336 779,1327 774,1319 C769,1311 777,1300 774,1294 C771,1287 761,1287 756,1279 C751,1271 743,1257 743,1246 C742,1236 747,1224 752,1217 C757,1210 767,1210 774,1202 C781,1194 784,1176 792,1169 C800,1163 814,1169 822,1162 C829,1155 837,1140 840,1129 C843,1119 838,1116 840,1100 C842,1084 848,1050 852,1034 C856,1019 864,1019 864,1010 C865,1000 859,989 857,980 C855,970 851,960 852,955 C853,949 857,948 864,947 C872,946 890,952 899,950 C909,947 914,940 919,935 C924,930 923,925 929,920 C936,915 948,910 959,905 C970,899 982,888 994,885 C1007,882 1022,885 1034,887 C1047,889 1062,887 1069,895 C1076,903 1073,921 1077,935 C1080,948 1085,963 1089,975 C1094,986 1102,996 1104,1005 C1107,1013 1107,1019 1104,1024 C1101,1030 1087,1034 1084,1035 Z" fill="#fff"/>
<path d="M979,1210 L979,1162 L1012,1137 L1070,1169 L1044,1186 L1519,1469 Q1527,1495 1541,1500 L1561,1493 M993,1210 L993,1169 L1013,1155 L1047,1173 L1020,1188 L1023,1195 L1509,1480 Q1516,1506 1538,1509 M979,1210 Q986,1217 993,1210"/></g>
<g transform="translate(700.0 2100.0) scale(0.36541)" fill="none" stroke="#000" stroke-width="15.325" stroke-linejoin="round" stroke-linecap="round">
<path d="M205,400 L320,462 L350,540 Q370,555 380,535 L365,490 L680,672 L715,755 Q735,770 745,750 L735,705 L920,805 M205,490 L1020,960" />
<path d="M885,580 L940,552 L940,605 M885,580 L885,640 L915,655 L915,800 L1005,850 L1005,960 L1020,960 M900,590 L1030,665 L1045,705 L1065,688 L1175,745 M885,640 L930,645" />
<path d="M965,705 L965,745 L1165,850 M965,705 L1170,810 M975,790 L975,815 L1160,912 M975,790 L1165,885" />
<ellipse cx="950" cy="875" rx="13" ry="20" transform="rotate(-20 950 875)" />
<path d="M935,895 L830,940" />
<path d="M1020,870 L1085,1030 L1085,1110 L1170,1165 M1020,870 L1020,960 L1080,1110 M1085,1030 L1170,1075" /></g>
<g transform="translate(2100.0 1400.0) scale(0.36541)" fill="none" stroke="#000" stroke-width="15.325" stroke-linejoin="round" stroke-linecap="round">
<path d="M543,528 L578,483 L618,503 L593,543 Z M553,538 L593,558 M593,543 L618,493 L693,513 L743,538 M593,543 L628,598 L698,663 M648,540 L648,615 M678,548 L678,640 M653,585 L703,605 M660,560 L705,578" stroke-width="9"/>
<ellipse cx="753" cy="618" rx="42" ry="78" transform="rotate(-20 753 618)" stroke-width="9" fill="#fff"/>
<ellipse cx="747" cy="620" rx="32" ry="64" transform="rotate(-20 747 620)" stroke-width="9"/>
<path d="M760,592 L815,618 M765,650 L812,672" stroke-width="9"/>
<ellipse cx="823" cy="653" rx="22" ry="27" transform="rotate(-15 823 653)" stroke-width="9" fill="#fff"/>
<path d="M375,990 L610,1125" stroke-dasharray="35 18" stroke-linecap="butt"/>
<path d="M207,548 L250,520" /></g>
<g transform="translate(0.0 0.0) scale(1.00000)" fill="none" stroke="#000" stroke-width="5.600" stroke-linejoin="round" stroke-linecap="round">
<path d="M2177,383 L2192,375 L2848,754 L2848,1971 L2833,1979 L2176,1600 Z M2192,392 L2192,1590 M2177,383 L2192,392 L2831,765 L2831,1966 M2831,765 L2848,754 M2192,1590 L2831,1966" stroke-width="4.6"/>
<path d="M101,1581 L115,1573 L770,1955 L770,3169 L756,3177 L101,2797 Z M101,1581 L752,1963 L752,3175 M752,1963 L770,1955" stroke-width="4.8"/>
<path d="M124,3607 L1029,3607 M124,4246 L1029,4246" stroke-dasharray="41 41.27" stroke-dashoffset="20.5" stroke-linecap="butt"/>
<path d="M124,3607 L124,4246 M1029,3607 L1029,4246" stroke-dasharray="40 39.9" stroke-dashoffset="20" stroke-linecap="butt"/>
<path d="M1091,824 L1276,719 A8,8 0 0 0 1268,705 L1083,810 A8,8 0 0 0 1091,824" />
<path d="M1109,854 L1276,757 A8,8 0 0 0 1268,743 L1101,840 A8,8 0 0 0 1109,854" />
<path d="M1129,884 L1276,794 A8,8 0 0 0 1268,780 L1121,870 A8,8 0 0 0 1129,884" />
<path d="M1149,914 L1276,834 A8,8 0 0 0 1268,820 L1141,900 A8,8 0 0 0 1149,914" />
<path d="M2100,486 L2173,525" stroke-dasharray="21 7 6 7 6 7" stroke-linecap="butt"/><ellipse cx="2184" cy="525" rx="4" ry="8" transform="rotate(25 2184 525)"/>
<g transform="translate(106 1165) rotate(22.5) scale(1.0)" stroke-width="3.2"><path d="M-2,-9 L3,-12 L11,-12 L11,12 L3,12 L-2,9 Z M3,-12 L3,12 M-2,-4 L11,-4 M-2,4 L3,4" fill="#fff"/><ellipse cx="14" cy="0" rx="4.5" ry="15" fill="#fff"/><path d="M18,-7.5 L46,-7.5 Q58,-5 60,0 Q58,5 46,7.5 L18,7.5 Z" fill="#fff"/><path d="M23,-7.5 Q26.5,0 23,7.5"/><path d="M29,-7.5 Q32.5,0 29,7.5"/><path d="M35,-7.5 Q38.5,0 35,7.5"/><path d="M41,-7.5 Q44.5,0 41,7.5"/></g>
<g transform="translate(293 1376) rotate(23) scale(1.0)" stroke-width="3.2"><path d="M-2,-9 L3,-12 L11,-12 L11,12 L3,12 L-2,9 Z M3,-12 L3,12 M-2,-4 L11,-4 M-2,4 L3,4" fill="#fff"/><ellipse cx="14" cy="0" rx="4.5" ry="15" fill="#fff"/><path d="M18,-7.5 L44,-7.5 Q56,-5 58,0 Q56,5 44,7.5 L18,7.5 Z" fill="#fff"/><path d="M23,-7.5 Q26.5,0 23,7.5"/><path d="M29,-7.5 Q32.5,0 29,7.5"/><path d="M35,-7.5 Q38.5,0 35,7.5"/><path d="M41,-7.5 Q44.5,0 41,7.5"/></g>
<g transform="translate(1547 742) rotate(155) scale(1.2)" stroke-width="3.2"><path d="M-2,-9 L3,-12 L11,-12 L11,12 L3,12 L-2,9 Z M3,-12 L3,12 M-2,-4 L11,-4 M-2,4 L3,4" fill="#fff"/><ellipse cx="14" cy="0" rx="4.5" ry="15" fill="#fff"/><path d="M18,-7.5 L49,-7.5 Q61,-5 63,0 Q61,5 49,7.5 L18,7.5 Z" fill="#fff"/><path d="M23,-7.5 Q26.5,0 23,7.5"/><path d="M29,-7.5 Q32.5,0 29,7.5"/><path d="M35,-7.5 Q38.5,0 35,7.5"/><path d="M41,-7.5 Q44.5,0 41,7.5"/><path d="M47,-7.5 Q50.5,0 47,7.5"/></g>
<g transform="translate(2023 452) rotate(23) scale(1.2)" stroke-width="3.2"><path d="M-2,-9 L3,-12 L11,-12 L11,12 L3,12 L-2,9 Z M3,-12 L3,12 M-2,-4 L11,-4 M-2,4 L3,4" fill="#fff"/><ellipse cx="14" cy="0" rx="4.5" ry="15" fill="#fff"/><path d="M18,-7.5 L49,-7.5 Q61,-5 63,0 Q61,5 49,7.5 L18,7.5 Z" fill="#fff"/><path d="M23,-7.5 Q26.5,0 23,7.5"/><path d="M29,-7.5 Q32.5,0 29,7.5"/><path d="M35,-7.5 Q38.5,0 35,7.5"/><path d="M41,-7.5 Q44.5,0 41,7.5"/><path d="M47,-7.5 Q50.5,0 47,7.5"/></g>
<g transform="translate(2156 1352) rotate(151) scale(1.2)" stroke-width="3.2"><path d="M-2,-9 L3,-12 L11,-12 L11,12 L3,12 L-2,9 Z M3,-12 L3,12 M-2,-4 L11,-4 M-2,4 L3,4" fill="#fff"/><ellipse cx="14" cy="0" rx="4.5" ry="15" fill="#fff"/><path d="M18,-7.5 L49,-7.5 Q61,-5 63,0 Q61,5 49,7.5 L18,7.5 Z" fill="#fff"/><path d="M23,-7.5 Q26.5,0 23,7.5"/><path d="M29,-7.5 Q32.5,0 29,7.5"/><path d="M35,-7.5 Q38.5,0 35,7.5"/><path d="M41,-7.5 Q44.5,0 41,7.5"/><path d="M47,-7.5 Q50.5,0 47,7.5"/></g>
<g transform="translate(932 2481) rotate(-27) scale(1.2)" stroke-width="3.2"><path d="M-2,-9 L3,-12 L11,-12 L11,12 L3,12 L-2,9 Z M3,-12 L3,12 M-2,-4 L11,-4 M-2,4 L3,4" fill="#fff"/><ellipse cx="14" cy="0" rx="4.5" ry="15" fill="#fff"/><path d="M18,-7.5 L49,-7.5 Q61,-5 63,0 Q61,5 49,7.5 L18,7.5 Z" fill="#fff"/><path d="M23,-7.5 Q26.5,0 23,7.5"/><path d="M29,-7.5 Q32.5,0 29,7.5"/><path d="M35,-7.5 Q38.5,0 35,7.5"/><path d="M41,-7.5 Q44.5,0 41,7.5"/><path d="M47,-7.5 Q50.5,0 47,7.5"/></g>
<g transform="translate(1608 2722) rotate(90) scale(1.2)" stroke-width="3.2"><path d="M-2,-9 L3,-12 L11,-12 L11,12 L3,12 L-2,9 Z M3,-12 L3,12 M-2,-4 L11,-4 M-2,4 L3,4" fill="#fff"/><ellipse cx="14" cy="0" rx="4.5" ry="15" fill="#fff"/><path d="M18,-7.5 L49,-7.5 Q61,-5 63,0 Q61,5 49,7.5 L18,7.5 Z" fill="#fff"/><path d="M23,-7.5 Q26.5,0 23,7.5"/><path d="M29,-7.5 Q32.5,0 29,7.5"/><path d="M35,-7.5 Q38.5,0 35,7.5"/><path d="M41,-7.5 Q44.5,0 41,7.5"/><path d="M47,-7.5 Q50.5,0 47,7.5"/></g>
<g transform="translate(2721 2751) rotate(90) scale(1.2)" stroke-width="3.2"><path d="M-2,-9 L3,-12 L11,-12 L11,12 L3,12 L-2,9 Z M3,-12 L3,12 M-2,-4 L11,-4 M-2,4 L3,4" fill="#fff"/><ellipse cx="14" cy="0" rx="4.5" ry="15" fill="#fff"/><path d="M18,-7.5 L49,-7.5 Q61,-5 63,0 Q61,5 49,7.5 L18,7.5 Z" fill="#fff"/><path d="M23,-7.5 Q26.5,0 23,7.5"/><path d="M29,-7.5 Q32.5,0 29,7.5"/><path d="M35,-7.5 Q38.5,0 35,7.5"/><path d="M41,-7.5 Q44.5,0 41,7.5"/><path d="M47,-7.5 Q50.5,0 47,7.5"/></g>
<g transform="translate(732 3355) rotate(-31) scale(1.2)" stroke-width="3.2"><path d="M-2,-9 L3,-12 L11,-12 L11,12 L3,12 L-2,9 Z M3,-12 L3,12 M-2,-4 L11,-4 M-2,4 L3,4" fill="#fff"/><ellipse cx="14" cy="0" rx="4.5" ry="15" fill="#fff"/><path d="M18,-7.5 L49,-7.5 Q61,-5 63,0 Q61,5 49,7.5 L18,7.5 Z" fill="#fff"/><path d="M23,-7.5 Q26.5,0 23,7.5"/><path d="M29,-7.5 Q32.5,0 29,7.5"/><path d="M35,-7.5 Q38.5,0 35,7.5"/><path d="M41,-7.5 Q44.5,0 41,7.5"/><path d="M47,-7.5 Q50.5,0 47,7.5"/></g>
<g transform="translate(728 3513) rotate(-27) scale(1.2)" stroke-width="3.2"><path d="M-2,-9 L3,-12 L11,-12 L11,12 L3,12 L-2,9 Z M3,-12 L3,12 M-2,-4 L11,-4 M-2,4 L3,4" fill="#fff"/><ellipse cx="14" cy="0" rx="4.5" ry="15" fill="#fff"/><path d="M18,-7.5 L49,-7.5 Q61,-5 63,0 Q61,5 49,7.5 L18,7.5 Z" fill="#fff"/><path d="M23,-7.5 Q26.5,0 23,7.5"/><path d="M29,-7.5 Q32.5,0 29,7.5"/><path d="M35,-7.5 Q38.5,0 35,7.5"/><path d="M41,-7.5 Q44.5,0 41,7.5"/><path d="M47,-7.5 Q50.5,0 47,7.5"/></g>
<g transform="translate(851 4025) rotate(209) scale(1.0)" stroke-width="3.2"><path d="M-2,-9 L3,-12 L11,-12 L11,12 L3,12 L-2,9 Z M3,-12 L3,12 M-2,-4 L11,-4 M-2,4 L3,4" fill="#fff"/><ellipse cx="14" cy="0" rx="4.5" ry="15" fill="#fff"/><path d="M18,-7.5 L72,-7.5 Q84,-5 86,0 Q84,5 72,7.5 L18,7.5 Z" fill="#fff"/><path d="M23,-7.5 Q26.5,0 23,7.5"/><path d="M29,-7.5 Q32.5,0 29,7.5"/><path d="M35,-7.5 Q38.5,0 35,7.5"/><path d="M41,-7.5 Q44.5,0 41,7.5"/><path d="M47,-7.5 Q50.5,0 47,7.5"/><path d="M53,-7.5 Q56.5,0 53,7.5"/><path d="M59,-7.5 Q62.5,0 59,7.5"/><path d="M65,-7.5 Q68.5,0 65,7.5"/><path d="M71,-7.5 Q74.5,0 71,7.5"/></g>
<g transform="translate(986 4128) rotate(208) scale(1.0)" stroke-width="3.2"><path d="M-2,-9 L3,-12 L11,-12 L11,12 L3,12 L-2,9 Z M3,-12 L3,12 M-2,-4 L11,-4 M-2,4 L3,4" fill="#fff"/><ellipse cx="14" cy="0" rx="4.5" ry="15" fill="#fff"/><path d="M18,-7.5 L72,-7.5 Q84,-5 86,0 Q84,5 72,7.5 L18,7.5 Z" fill="#fff"/><path d="M23,-7.5 Q26.5,0 23,7.5"/><path d="M29,-7.5 Q32.5,0 29,7.5"/><path d="M35,-7.5 Q38.5,0 35,7.5"/><path d="M41,-7.5 Q44.5,0 41,7.5"/><path d="M47,-7.5 Q50.5,0 47,7.5"/><path d="M53,-7.5 Q56.5,0 53,7.5"/><path d="M59,-7.5 Q62.5,0 59,7.5"/><path d="M65,-7.5 Q68.5,0 65,7.5"/><path d="M71,-7.5 Q74.5,0 71,7.5"/></g>
<g transform="translate(2389 1844) rotate(206.5) scale(1.2)" stroke-width="3.2"><path d="M-2,-9 L3,-12 L11,-12 L11,12 L3,12 L-2,9 Z M3,-12 L3,12 M-2,-4 L11,-4 M-2,4 L3,4" fill="#fff"/><ellipse cx="14" cy="0" rx="4.5" ry="15" fill="#fff"/><path d="M18,-7.5 L48,-7.5 Q60,-5 62,0 Q60,5 48,7.5 L18,7.5 Z" fill="#fff"/><path d="M23,-7.5 Q26.5,0 23,7.5"/><path d="M29,-7.5 Q32.5,0 29,7.5"/><path d="M35,-7.5 Q38.5,0 35,7.5"/><path d="M41,-7.5 Q44.5,0 41,7.5"/><path d="M47,-7.5 Q50.5,0 47,7.5"/></g>
<path d="M351,335 L303,331" stroke-width="4.6" stroke-linecap="butt"/>
<path d="M241,326 L303.6,321.1 L302.0,341.0 Z" fill="#000" stroke="none"/>
<path d="M811,318 L788,323" stroke-width="4.6" stroke-linecap="butt"/>
<path d="M727,335 L785.8,312.9 L789.8,332.5 Z" fill="#000" stroke="none"/>
<path d="M1027,405 L1054,472" stroke-width="4.6" stroke-linecap="butt"/>
<path d="M1078,529 L1045.2,475.5 L1063.7,467.9 Z" fill="#000" stroke="none"/>
<path d="M216,708 L220,691" stroke-width="4.6" stroke-linecap="butt"/>
<path d="M235,631 L229.9,693.6 L210.4,688.8 Z" fill="#000" stroke="none"/>
<path d="M121,931 L129,1088" stroke-width="4.6" stroke-linecap="butt"/>
<path d="M132,1150 L118.9,1088.6 L138.9,1087.6 Z" fill="#000" stroke="none"/>
<path d="M201,1040 L203,1095" stroke-width="4.6" stroke-linecap="butt"/>
<path d="M205,1157 L192.9,1095.4 L212.9,1094.7 Z" fill="#000" stroke="none"/>
<path d="M338,1113 L354,1220" stroke-width="4.6" stroke-linecap="butt"/>
<path d="M363,1281 L344.0,1221.1 L363.8,1218.2 Z" fill="#000" stroke="none"/>
<path d="M1568,606 L1461,715" stroke-width="4.6" stroke-linecap="butt"/>
<path d="M1418,759 L1454.3,707.7 L1468.5,721.7 Z" fill="#000" stroke="none"/>
<path d="M1710,576 L1601,686" stroke-width="4.6" stroke-linecap="butt"/>
<path d="M1557,730 L1593.6,679.0 L1607.8,693.1 Z" fill="#000" stroke="none"/>
<path d="M1929,637 L1990,534" stroke-width="4.6" stroke-linecap="butt"/>
<path d="M2022,481 L1998.8,539.4 L1981.7,529.1 Z" fill="#000" stroke="none"/>
<path d="M1860,901 L1825,1104" stroke-width="4.6" stroke-linecap="butt"/>
<path d="M1815,1165 L1815.6,1102.2 L1835.3,1105.6 Z" fill="#000" stroke="none"/>
<path d="M2045,1062 L2041,1234" stroke-width="4.6" stroke-linecap="butt"/>
<path d="M2039,1296 L2030.6,1233.8 L2050.6,1234.3 Z" fill="#000" stroke="none"/>
<path d="M2127,1179 L2125,1271" stroke-width="4.6" stroke-linecap="butt"/>
<path d="M2123,1333 L2114.6,1270.8 L2134.6,1271.3 Z" fill="#000" stroke="none"/>
<path d="M1447,1323 L1370,1322" stroke-width="4.6" stroke-linecap="butt"/>
<path d="M1308,1322 L1370.1,1312.4 L1369.9,1332.4 Z" fill="#000" stroke="none"/>
<path d="M2707,481 L2637,541" stroke-width="4.6" stroke-linecap="butt"/>
<path d="M2590,581 L2630.6,533.1 L2643.6,548.3 Z" fill="#000" stroke="none"/>
<path d="M2537,1458 L2456,1538" stroke-width="4.6" stroke-linecap="butt"/>
<path d="M2412,1581 L2449.2,1530.4 L2463.2,1544.6 Z" fill="#000" stroke="none"/>
<path d="M170,1447 L164,1435" stroke-width="4.6" stroke-linecap="butt"/>
<path d="M135,1380 L172.6,1430.3 L154.8,1439.6 Z" fill="#000" stroke="none"/>
<path d="M315,1494 L315,1482" stroke-width="4.6" stroke-linecap="butt"/>
<path d="M315,1420 L325.0,1482.0 L305.0,1482.0 Z" fill="#000" stroke="none"/>
<path d="M1803,1750 L1808,1812" stroke-width="4.6" stroke-linecap="butt"/>
<path d="M1813,1874 L1798.0,1813.0 L1818.0,1811.4 Z" fill="#000" stroke="none"/>
<path d="M2411,1970 L2406,1936" stroke-width="4.6" stroke-linecap="butt"/>
<path d="M2396,1875 L2415.5,1934.7 L2395.8,1937.8 Z" fill="#000" stroke="none"/>
<path d="M2210,2098 L2074,2128" stroke-width="4.6" stroke-linecap="butt"/>
<path d="M2013,2141 L2071.4,2118.0 L2075.7,2137.5 Z" fill="#000" stroke="none"/>
<path d="M3093,1912 L3096,2060" stroke-width="4.6" stroke-linecap="butt"/>
<path d="M3097,2122 L3085.8,2060.2 L3105.8,2059.8 Z" fill="#000" stroke="none"/>
<path d="M2832,2741 L2810,2745" stroke-width="4.6" stroke-linecap="butt"/>
<path d="M2749,2757 L2808.0,2735.4 L2811.8,2755.1 Z" fill="#000" stroke="none"/>
<path d="M2887,2838 L2804,2881" stroke-width="4.6" stroke-linecap="butt"/>
<path d="M2749,2909 L2799.6,2871.7 L2808.7,2889.5 Z" fill="#000" stroke="none"/>
<path d="M3097,3167 L3094,3118" stroke-width="4.6" stroke-linecap="butt"/>
<path d="M3091,3056 L3104.3,3117.4 L3084.4,3118.4 Z" fill="#000" stroke="none"/>
<path d="M2906,3262 L2779,3168" stroke-width="4.6" stroke-linecap="butt"/>
<path d="M2729,3131 L2784.8,3159.8 L2772.9,3175.9 Z" fill="#000" stroke="none"/>
<path d="M3052,3634 L2857,3693" stroke-width="4.6" stroke-linecap="butt"/>
<path d="M2798,3711 L2854.4,3683.4 L2860.2,3702.6 Z" fill="#000" stroke="none"/>
<path d="M1037,2159 L1051,2252" stroke-width="4.6" stroke-linecap="butt"/>
<path d="M1061,2313 L1041.6,2253.3 L1061.3,2250.2 Z" fill="#000" stroke="none"/>
<path d="M1487,2678 L1521,2692" stroke-width="4.6" stroke-linecap="butt"/>
<path d="M1579,2715 L1517.7,2701.1 L1525.2,2682.6 Z" fill="#000" stroke="none"/>
<path d="M1772,2887 L1700,2863" stroke-width="4.6" stroke-linecap="butt"/>
<path d="M1641,2844 L1703.0,2853.8 L1696.8,2872.8 Z" fill="#000" stroke="none"/>
<path d="M1772,2887 L1753,2822" stroke-width="4.6" stroke-linecap="butt"/>
<path d="M1736,2762 L1762.8,2818.8 L1743.5,2824.3 Z" fill="#000" stroke="none"/>
<path d="M967,2607 L962,2573" stroke-width="4.6" stroke-linecap="butt"/>
<path d="M954,2512 L972.3,2572.1 L952.5,2574.8 Z" fill="#000" stroke="none"/>
<path d="M954,2848 L843,2751" stroke-width="4.6" stroke-linecap="butt"/>
<path d="M796,2710 L849.3,2743.3 L836.1,2758.3 Z" fill="#000" stroke="none"/>
<path d="M657,3219 L769,3259" stroke-width="4.6" stroke-linecap="butt"/>
<path d="M827,3280 L765.3,3268.5 L772.0,3249.6 Z" fill="#000" stroke="none"/>
<path d="M534,3260 L651,3302" stroke-width="4.6" stroke-linecap="butt"/>
<path d="M709,3323 L647.3,3311.4 L654.1,3292.6 Z" fill="#000" stroke="none"/>
<path d="M669,3359 L770,3405" stroke-width="4.6" stroke-linecap="butt"/>
<path d="M827,3430 L766.3,3413.7 L774.5,3395.5 Z" fill="#000" stroke="none"/>
<path d="M519,3417 L635,3459" stroke-width="4.6" stroke-linecap="butt"/>
<path d="M693,3480 L631.3,3468.3 L638.1,3449.5 Z" fill="#000" stroke="none"/>
<path d="M180,3372 L219,3523" stroke-width="4.6" stroke-linecap="butt"/>
<path d="M234,3583 L208.9,3525.4 L228.3,3520.5 Z" fill="#000" stroke="none"/>
<path d="M1232,3349 L1344,3370" stroke-width="4.6" stroke-linecap="butt"/>
<path d="M1405,3381 L1342.2,3379.6 L1345.9,3359.9 Z" fill="#000" stroke="none"/>
<path d="M1674,4185 L1442,4086" stroke-width="4.6" stroke-linecap="butt"/>
<path d="M1385,4062 L1446.0,4077.1 L1438.1,4095.5 Z" fill="#000" stroke="none"/>
<path d="M281,3705 L385,3738" stroke-width="4.6" stroke-linecap="butt"/>
<path d="M444,3757 L381.9,3747.7 L388.0,3728.6 Z" fill="#000" stroke="none"/>
<path d="M281,3705 L343,3754" stroke-width="4.6" stroke-linecap="butt"/>
<path d="M392,3793 L337.2,3762.3 L349.6,3746.6 Z" fill="#000" stroke="none"/>
<path d="M288,3842 L374,3855" stroke-width="4.6" stroke-linecap="butt"/>
<path d="M435,3865 L372.2,3865.3 L375.3,3845.5 Z" fill="#000" stroke="none"/>
<path d="M889,3912 L877,3940" stroke-width="4.6" stroke-linecap="butt"/>
<path d="M852,3997 L867.6,3936.2 L885.9,3944.1 Z" fill="#000" stroke="none"/>
<path d="M889,3912 L951,4045" stroke-width="4.6" stroke-linecap="butt"/>
<path d="M977,4101 L941.8,4049.0 L959.9,4040.6 Z" fill="#000" stroke="none"/>
<text x="367" y="383" font-size="86">32</text>
<text x="827" y="339" font-size="86" letter-spacing="-6">14</text>
<text x="988" y="383" font-size="86">1</text>
<text x="148" y="803" font-size="86">31</text>
<text x="93" y="920" font-size="86">40</text>
<text x="155" y="1029" font-size="86">29</text>
<text x="309" y="1088" font-size="86">8</text>
<text x="1566" y="591" font-size="86">22</text>
<text x="1715" y="562" font-size="86">35</text>
<text x="1858" y="722" font-size="86">35</text>
<text x="1836" y="872" font-size="86" letter-spacing="-6">11</text>
<text x="2022" y="1037" font-size="86">9</text>
<text x="2070" y="1157" font-size="86">35</text>
<text x="1463" y="1355" font-size="86" letter-spacing="-6">13</text>
<text x="2727" y="474" font-size="86">7</text>
<text x="2496" y="1452" font-size="86" letter-spacing="-6">10</text>
<text x="120" y="1527" font-size="86">41</text>
<text x="260" y="1579" font-size="86">35</text>
<text x="1759" y="1706" font-size="86">33</text>
<text x="2363" y="2050" font-size="86">34</text>
<text x="2248" y="2118" font-size="86">2</text>
<text x="2850" y="2767" font-size="86">35</text>
<text x="2893" y="2850" font-size="86">25</text>
<text x="3067" y="1892" font-size="86">6</text>
<text x="3073" y="3267" font-size="86">28</text>
<text x="2951" y="3334" font-size="86">5</text>
<text x="3091" y="3650" font-size="86">3</text>
<text x="984" y="2134" font-size="86" letter-spacing="-6">19</text>
<text x="1378" y="2678" font-size="86">35</text>
<text x="1778" y="2971" font-size="86">20</text>
<text x="920" y="2694" font-size="86">35</text>
<text x="976" y="2920" font-size="86">7</text>
<text x="556" y="3232" font-size="86" letter-spacing="-6">15</text>
<text x="433" y="3276" font-size="86">35</text>
<text x="560" y="3391" font-size="86" letter-spacing="-6">17</text>
<text x="422" y="3434" font-size="86">35</text>
<text x="125" y="3339" font-size="86">23</text>
<text x="160" y="3715" font-size="86">37</text>
<text x="1162" y="3375" font-size="86">4</text>
<text x="165" y="3863" font-size="86">27</text>
<text x="874" y="3872" font-size="86">36</text>
<text x="1680" y="4232" font-size="86" letter-spacing="-6">18</text></g>
</svg></body></html>
